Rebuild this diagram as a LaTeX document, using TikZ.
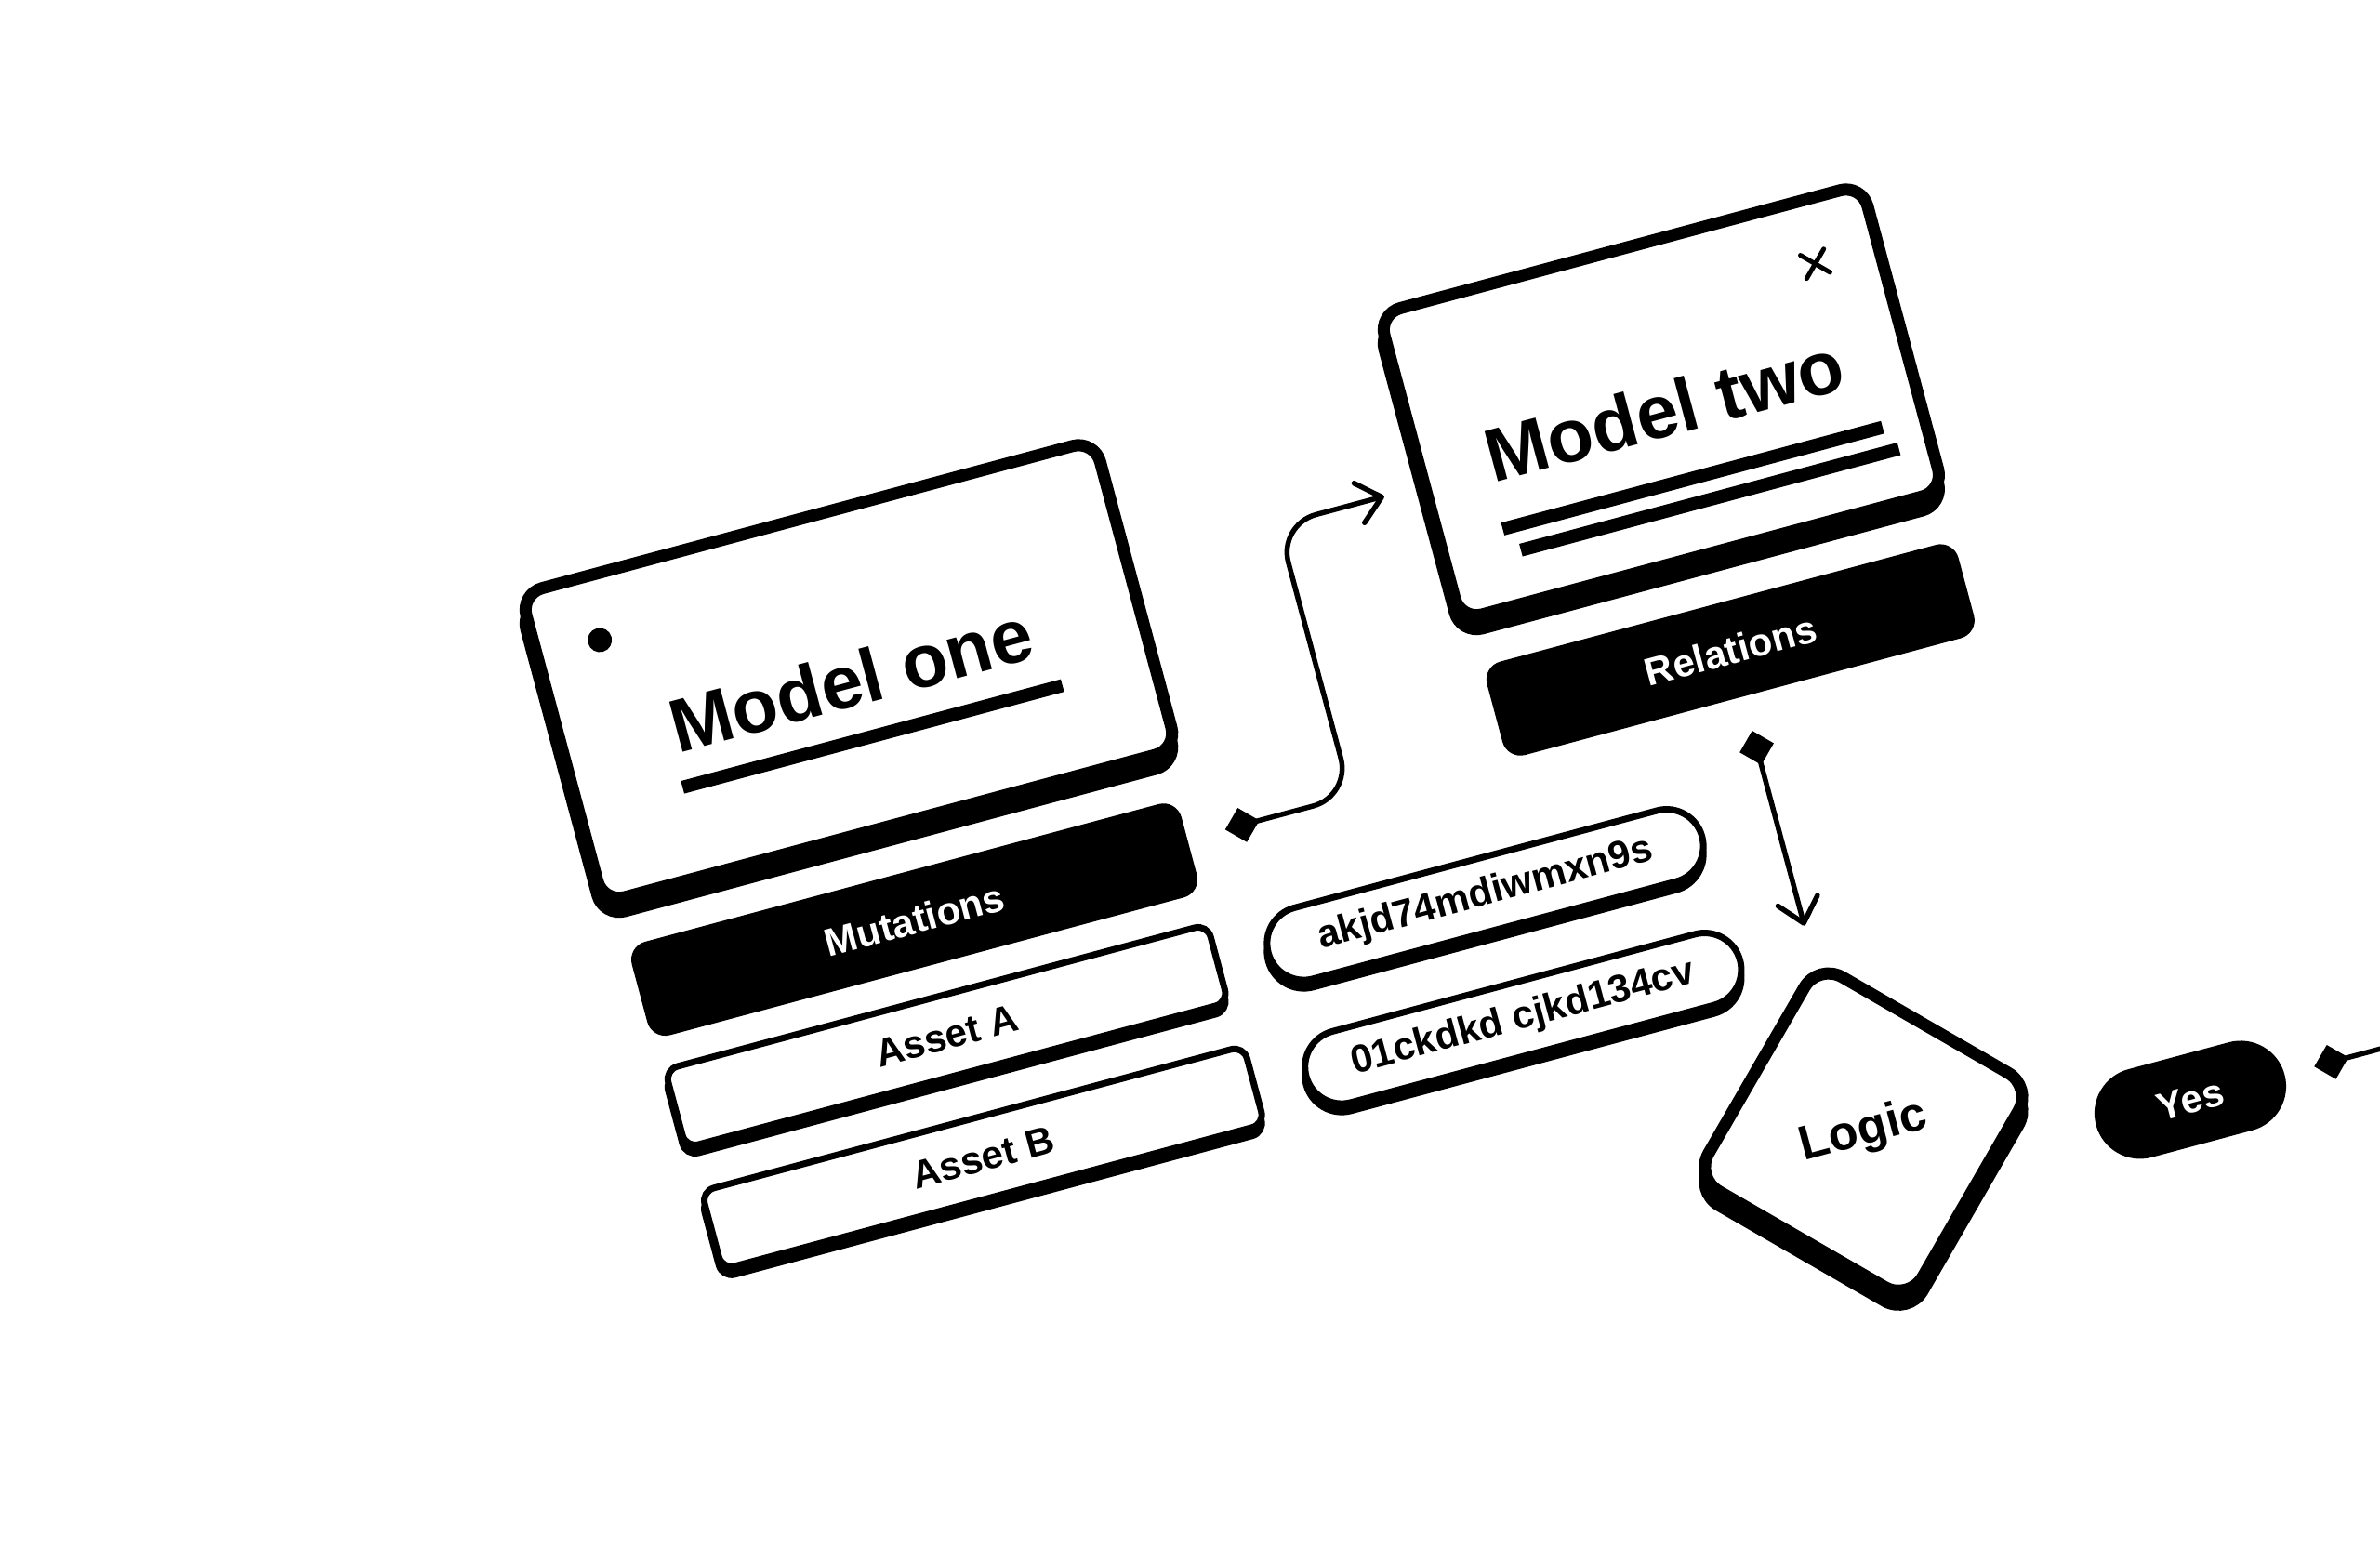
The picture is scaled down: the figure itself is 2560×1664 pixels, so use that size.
\documentclass[tikz,border=0pt]{standalone}
\usepackage{fontspec}
\setmainfont{Liberation Sans}
\usetikzlibrary{shapes.geometric,shapes.misc,arrows.meta,calc}
\begin{document}
\begin{tikzpicture}[x=1pt,y=1pt,
  card/.style={draw=black, fill=white, line width=13pt, rounded corners=24pt,
    minimum width=639pt, minimum height=344pt, inner sep=0pt, outer sep=0pt},
  cardsh/.style={card, fill=black},
  bar/.style={fill=black, rounded corners=20pt, inner sep=0pt, outer sep=0pt,
    text=white, font=\fontsize{42pt}{50pt}\selectfont\bfseries, minimum height=104pt},
  asset/.style={draw=black, fill=white, line width=7pt, rounded corners=14pt,
    minimum width=604pt, minimum height=87pt, inner sep=0pt, outer sep=0pt,
    font=\fontsize{42pt}{50pt}\selectfont\bfseries},
  assetsh/.style={asset, fill=black},
  pill/.style={rounded rectangle, draw=black, fill=white, line width=7pt,
    minimum width=483pt, minimum height=79pt, inner sep=0pt, outer sep=0pt,
    font=\fontsize{42pt}{50pt}\selectfont\bfseries},
  pillsh/.style={pill, fill=black},
  logicbox/.style={diamond, aspect=1, draw=black, fill=white, line width=13pt,
    rounded corners=30pt, minimum width=376pt, minimum height=376pt,
    inner sep=0pt, outer sep=0pt, font=\fontsize{52pt}{60pt}\selectfont\bfseries},
  logicsh/.style={logicbox, fill=black},
  yespill/.style={rounded rectangle, fill=black, text=white, minimum width=210pt,
    minimum height=98pt, inner sep=0pt, outer sep=0pt,
    font=\fontsize{42pt}{50pt}\selectfont\bfseries},
  title/.style={anchor=base, inner sep=0pt, font=\fontsize{81pt}{90pt}\selectfont\bfseries},
  dotmark/.style={circle, fill=black, minimum size=26pt, inner sep=0pt},
  crossmark/.style={cross out, draw=black, line width=5pt, line cap=round,
    minimum size=21pt, inner sep=0pt},
  conn/.style={draw=black, line width=5.5pt, line cap=round, line join=round},
  dtip/.tip={Diamond[length=38pt,width=38pt]},
  btip/.tip={Straight Barb[length=25pt,width=44pt,round]}
]
\useasboundingbox (0,0) rectangle (2560,-1664);
\fill[white] (0,0) rectangle (2560,-1664);
\begin{scope}[rotate=15, transform shape]
% Model one
\node[cardsh] (m1s) at (691.1,-948.5) {};
\node[card] (m1) at (695,-934) {};
\node[dotmark] (m1dot) at (445,-832) {};
\node[title] (m1t) at (695,-972) {Model one};
\fill (490,-1001) rectangle (913,-1015);
% Mutations
\node[bar, minimum width=612pt] (mut) at (694,-1210) {Mutations};
% Assets
\node[assetsh] (aAs) at (692.7,-1348.7) {};
\node[asset] (aA) at (695,-1340) {Asset A};
\node[assetsh] (aBs) at (696.7,-1485.2) {};
\node[asset] (aB) at (699,-1476.5) {Asset B};
% Model two
\node[cardsh, minimum width=538pt, minimum height=341pt] (m2s) at (1610.1,-895) {};
\node[card, minimum width=538pt, minimum height=341pt] (m2) at (1614,-880.5) {};
\node[crossmark] (m2x) at (1812.5,-779.4) {};
\node[title] (m2t) at (1615,-918) {Model two};
\fill (1414,-961) rectangle (1837,-975);
\fill (1427,-988) rectangle (1848,-1002);
% Relations
\node[bar, minimum width=525pt] (rel) at (1617,-1157) {Relations};
% Pills
\node[pillsh] (p1s) at (1291.7,-1351.7) {};
\node[pill] (p1) at (1294,-1343) {akjd74mdiwmxn9s};
\node[pillsh] (p2s) at (1296.7,-1490.7) {};
\node[pill] (p2) at (1299,-1482) {01ckdkd cjkd134cv};
% Logic
\node[logicsh] (lgs) at (1617.1,-1709.5) {};
\node[logicbox] (lg) at (1621,-1695) {Logic};
% Yes
\node[yespill] (yes) at (1969.5,-1752.4) {Yes};
\coordinate (offR) at (2260,-1752.4);
% connectors
\draw[conn, rounded corners=42pt, dtip-btip]
  ($(mut.east)+(42,7)$) -- ++(140,0) |- ($(m2.west)+(-45,-20.5)$);
\draw[conn, dtip-btip] ($(rel.south)+(0,-38)$) -- ($(lg.north)+(-4,43)$);
\draw[conn, dtip-] ($(yes.east)+(33,0)$) -- (offR);
\end{scope}
\end{tikzpicture}
\end{document}
